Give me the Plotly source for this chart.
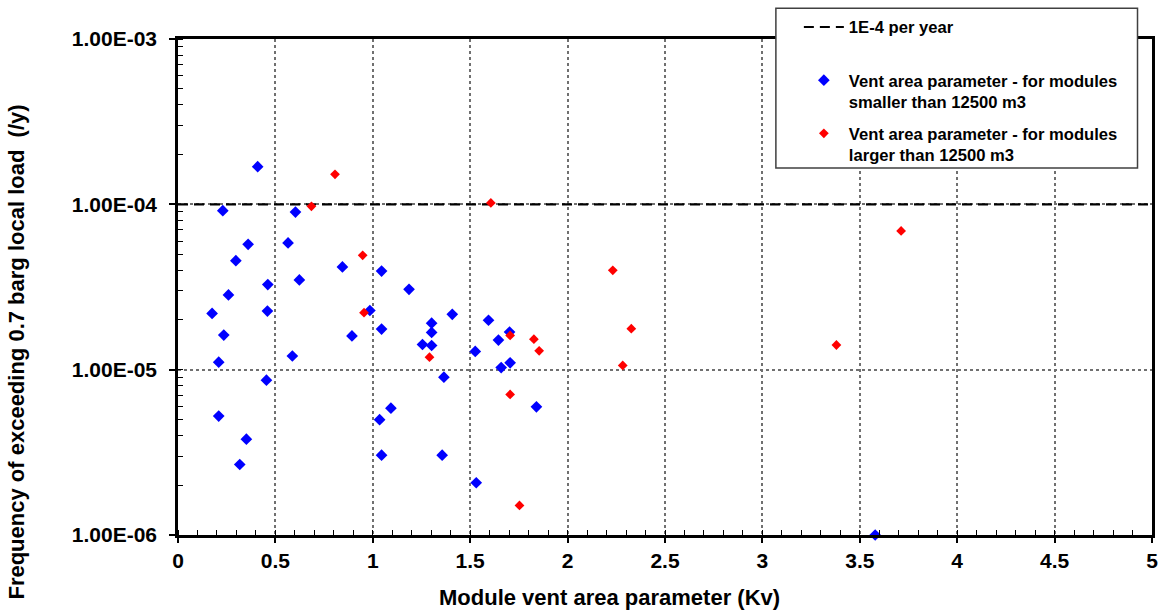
import plotly.graph_objects as go

# ---- data ----
small_kv = [0.409, 0.230, 0.603, 0.360, 0.565, 0.297, 0.844, 1.045, 0.623, 0.461,
            1.186, 0.259, 0.175, 0.459, 0.985, 1.408, 1.302, 1.302, 1.045, 0.235,
            0.893, 1.255, 1.302, 0.209, 0.587, 0.454, 1.365, 1.093, 1.035, 0.209,
            0.351, 0.317, 1.045, 1.356, 1.594, 1.702, 1.645, 1.526, 1.705, 1.659,
            1.840, 1.531, 3.579]
small_freq = [1.69e-4, 9.15e-5, 8.98e-5, 5.73e-5, 5.84e-5, 4.56e-5, 4.18e-5, 3.95e-5, 3.49e-5, 3.27e-5,
              3.06e-5, 2.83e-5, 2.19e-5, 2.26e-5, 2.28e-5, 2.16e-5, 1.91e-5, 1.68e-5, 1.76e-5, 1.62e-5,
              1.60e-5, 1.42e-5, 1.40e-5, 1.11e-5, 1.21e-5, 8.64e-6, 9.01e-6, 5.85e-6, 4.98e-6, 5.24e-6,
              3.80e-6, 2.67e-6, 3.04e-6, 3.04e-6, 1.99e-5, 1.69e-5, 1.51e-5, 1.29e-5, 1.10e-5, 1.03e-5,
              5.96e-6, 2.07e-6, 1.00e-6]

large_kv = [0.806, 0.685, 0.948, 0.955, 1.291, 1.606, 2.232, 2.327, 1.705, 1.827,
            1.854, 2.283, 1.705, 1.753, 3.712, 3.380]
large_freq = [1.52e-4, 9.72e-5, 4.92e-5, 2.21e-5, 1.19e-5, 1.02e-4, 3.99e-5, 1.77e-5, 1.61e-5, 1.53e-5,
              1.30e-5, 1.06e-5, 7.08e-6, 1.51e-6, 6.90e-5, 1.41e-5]

threshold = 1e-4
x_range = [0, 5]
x_ticks = [0, 0.5, 1, 1.5, 2, 2.5, 3, 3.5, 4, 4.5, 5]
x_ticktext = ["0", "0.5", "1", "1.5", "2", "2.5", "3", "3.5", "4", "4.5", "5"]
y_ticks = [1e-6, 1e-5, 1e-4, 1e-3]
y_ticktext = ["1.00E-06", "1.00E-05", "1.00E-04", "1.00E-03"]

FONT = "Liberation Sans, Arial, sans-serif"

fig = go.Figure()

fig.add_trace(go.Scatter(
    x=x_range, y=[threshold, threshold], mode="lines",
    line=dict(color="black", width=2.2, dash="10px,6px"),
    name="1E-4 per year<br> ", legendgroup="a", cliponaxis=False))

fig.add_trace(go.Scatter(
    x=small_kv, y=small_freq, mode="markers",
    marker=dict(symbol="diamond", color="#0000FF", size=9, line=dict(width=0)),
    name="Vent area parameter - for modules<br>smaller than 12500 m3",
    legendgroup="b", cliponaxis=False))

fig.add_trace(go.Scatter(
    x=large_kv, y=large_freq, mode="markers",
    marker=dict(symbol="diamond", color="#FF0000", size=7.5, line=dict(width=0)),
    name="Vent area parameter - for modules<br>larger than 12500 m3",
    legendgroup="c", cliponaxis=False))

L, R, T, B = 177.5, 1152.5, 38.8, 535.3
W, H = R - L, B - T

def px(xp):
    return (xp - L) / W

def py(yp):
    return (B - yp) / H

fig.add_shape(type="rect", xref="paper", yref="paper",
              x0=px(776), x1=px(1138), y0=py(168), y1=py(8),
              line=dict(color="#404040", width=1.5), fillcolor="white", layer="above")

fig.update_layout(
    width=1166, height=614,
    margin=dict(l=L, r=1166 - R, t=T, b=614 - B, autoexpand=False),
    paper_bgcolor="white", plot_bgcolor="white",
    font=dict(family=FONT, color="black"),
    showlegend=True,
    legend=dict(
        x=px(799), y=py(9.5), xanchor="left", yanchor="top",
        bgcolor="rgba(0,0,0,0)", borderwidth=0,
        font=dict(family=FONT, size=16.6, color="black", weight="bold"),
        traceorder="grouped", tracegroupgap=7, valign="top",
        itemwidth=40,
    ),
    annotations=[
        dict(text="<b>Module vent area parameter (Kv)</b>", xref="paper", yref="paper",
             x=px(609), y=py(598), xanchor="center", yanchor="middle", showarrow=False,
             font=dict(family=FONT, size=22, color="black")),
        dict(text="<b>Frequency of exceeding 0.7 barg local load  (/y)</b>", xref="paper", yref="paper",
             x=px(16), y=py(352), xanchor="center", yanchor="middle", showarrow=False,
             textangle=-90, font=dict(family=FONT, size=22, color="black")),
    ],
)

fig.update_xaxes(
    range=x_range, tickmode="array", tickvals=x_ticks, ticktext=x_ticktext,
    showline=True, linecolor="black", linewidth=2.5, mirror=True,
    showgrid=True, gridcolor="#707070", gridwidth=1.5, griddash="dot",
    ticks="outside", ticklen=5, tickwidth=1.5, tickcolor="black",
    tickfont=dict(family=FONT, size=21, color="black", weight="bold"),
    ticklabelstandoff=0,
    minor=dict(dtick=0.1, ticks="inside", ticklen=5, tickwidth=1.2, tickcolor="black", showgrid=False),
    zeroline=False,
)
fig.update_yaxes(
    type="log", range=[-6, -3], tickmode="array", tickvals=y_ticks, ticktext=y_ticktext,
    showline=True, linecolor="black", linewidth=2.5, mirror=True,
    showgrid=True, gridcolor="#707070", gridwidth=1.5, griddash="dot",
    ticks="outside", ticklen=6, tickwidth=1.5, tickcolor="black",
    tickfont=dict(family=FONT, size=21, color="black", weight="bold"),
    ticklabelstandoff=8,
    minor=dict(dtick="D1", ticks="inside", ticklen=5, tickwidth=1.2, tickcolor="black", showgrid=False),
    zeroline=False,
)

fig.write_html("out.html")
